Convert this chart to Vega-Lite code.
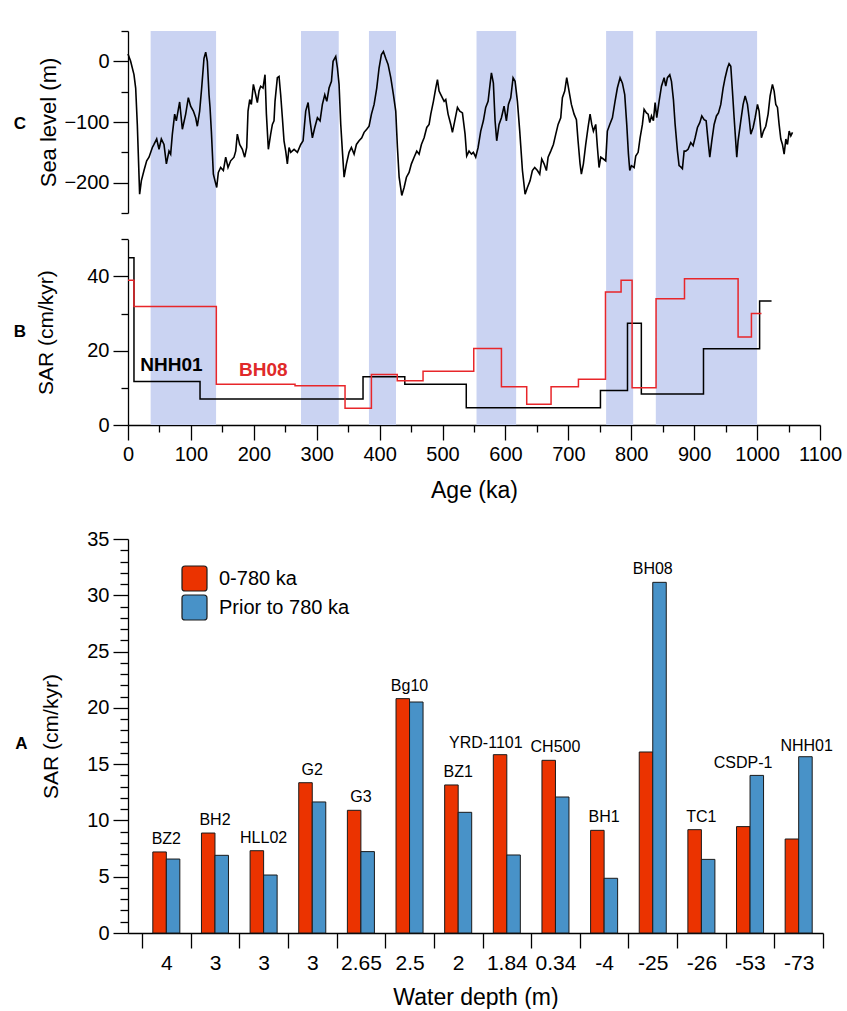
{
  "$schema": "https://vega.github.io/schema/vega-lite/v6.json",
  "background": "white",
  "padding": {"left": 13, "top": 30, "right": 0, "bottom": 0},
  "spacing": 27,
  "resolve": {"scale": {"color": "independent"}, "legend": {"color": "independent"}},
  "config": {
    "font": "Liberation Sans",
    "view": {"stroke": null},
    "axis": {"domainColor": "#000", "tickColor": "#000", "labelColor": "#000", "titleColor": "#000", "labelFontSize": 20, "titleFontSize": 21, "titleFontWeight": "normal", "grid": false, "domainWidth": 1.3, "tickWidth": 1.3, "labelOverlap": false},
    "text": {"font": "Liberation Sans"}
  },
  "datasets": {
    "bands": [
      {"start": 36, "end": 140}, {"start": 275, "end": 335}, {"start": 383, "end": 426},
      {"start": 554, "end": 617}, {"start": 760, "end": 803}, {"start": 839, "end": 1000}
    ],
    "sealevel": [
      {"age":0,"sl":12},{"age":4.2,"sl":0},{"age":9.5,"sl":-22},{"age":12.2,"sl":-44},{"age":14.8,"sl":-104},{"age":18.5,"sl":-219},{"age":21.2,"sl":-197},{"age":25.4,"sl":-180},{"age":29.7,"sl":-164},{"age":33.4,"sl":-158},{"age":38.7,"sl":-142},{"age":41.3,"sl":-137},{"age":45.6,"sl":-128},{"age":49.3,"sl":-145},{"age":53,"sl":-128},{"age":57.2,"sl":-137},{"age":61,"sl":-169},{"age":65.2,"sl":-148},{"age":67.8,"sl":-153},{"age":70.5,"sl":-120},{"age":74.2,"sl":-87},{"age":76.8,"sl":-98},{"age":82.1,"sl":-67},{"age":86.4,"sl":-112},{"age":91.7,"sl":-87},{"age":95.9,"sl":-60},{"age":99.6,"sl":-74},{"age":103.9,"sl":-82},{"age":107.6,"sl":-93},{"age":110.2,"sl":-107},{"age":113.9,"sl":-82},{"age":117.1,"sl":-44},{"age":120.8,"sl":5},{"age":123.5,"sl":15},{"age":126.1,"sl":0},{"age":128.8,"sl":-55},{"age":130.4,"sl":-76},{"age":132.5,"sl":-115},{"age":135.7,"sl":-186},{"age":138.3,"sl":-197},{"age":141,"sl":-208},{"age":143.6,"sl":-183},{"age":147.3,"sl":-175},{"age":151.6,"sl":-180},{"age":155.3,"sl":-158},{"age":159,"sl":-175},{"age":163.2,"sl":-164},{"age":168.5,"sl":-158},{"age":171.2,"sl":-148},{"age":173.8,"sl":-120},{"age":177.5,"sl":-137},{"age":181.8,"sl":-145},{"age":185.5,"sl":-158},{"age":188.7,"sl":-142},{"age":190.8,"sl":-82},{"age":193.5,"sl":-63},{"age":196.1,"sl":-71},{"age":199.3,"sl":-38},{"age":203,"sl":-55},{"age":205.6,"sl":-68},{"age":208.3,"sl":-49},{"age":210.9,"sl":-41},{"age":214.6,"sl":-44},{"age":217.8,"sl":-22},{"age":220,"sl":-87},{"age":223.1,"sl":-145},{"age":226.8,"sl":-120},{"age":229.5,"sl":-104},{"age":232.1,"sl":-98},{"age":233.7,"sl":-66},{"age":237.4,"sl":-27},{"age":240.1,"sl":-25},{"age":242.7,"sl":-55},{"age":245.4,"sl":-93},{"age":248,"sl":-131},{"age":250.7,"sl":-148},{"age":253.3,"sl":-169},{"age":256,"sl":-142},
      {"age":258.7,"sl":-150},{"age":264,"sl":-145},{"age":269.3,"sl":-150},{"age":274.6,"sl":-137},{"age":278.3,"sl":-131},{"age":282.5,"sl":-82},{"age":286.3,"sl":-68},{"age":289.4,"sl":-98},{"age":293.1,"sl":-126},{"age":296.9,"sl":-109},{"age":301.1,"sl":-93},{"age":305.3,"sl":-98},{"age":309,"sl":-71},{"age":312.8,"sl":-55},{"age":316,"sl":-66},{"age":319.6,"sl":-44},{"age":323.4,"sl":-33},{"age":326,"sl":0},{"age":330.2,"sl":8},{"age":332.9,"sl":-11},{"age":335.5,"sl":-38},{"age":338.2,"sl":-104},{"age":340.8,"sl":-148},{"age":343.5,"sl":-191},{"age":347.2,"sl":-169},{"age":351.4,"sl":-150},{"age":355.1,"sl":-142},{"age":359.4,"sl":-153},{"age":363.1,"sl":-137},{"age":367.3,"sl":-131},{"age":371.6,"sl":-126},{"age":375.3,"sl":-117},{"age":379.5,"sl":-112},{"age":383.2,"sl":-107},{"age":387,"sl":-87},{"age":391.2,"sl":-71},{"age":395.4,"sl":-44},{"age":399.1,"sl":-11},{"age":402.8,"sl":11},{"age":406,"sl":16},{"age":409.7,"sl":5},{"age":413.4,"sl":-5},{"age":417.7,"sl":-27},{"age":421.9,"sl":-55},{"age":425.6,"sl":-82},{"age":428.3,"sl":-142},{"age":431,"sl":-191},{"age":435.2,"sl":-221},{"age":438.9,"sl":-208},{"age":442.6,"sl":-191},{"age":446.8,"sl":-183},{"age":450.5,"sl":-169},{"age":454.8,"sl":-158},{"age":459,"sl":-148},{"age":462.7,"sl":-153},{"age":466.4,"sl":-137},{"age":470.7,"sl":-126},{"age":474.9,"sl":-109},{"age":478.6,"sl":-104},{"age":481.3,"sl":-87},{"age":485.5,"sl":-66},{"age":489.2,"sl":-44},{"age":491.9,"sl":-30},{"age":494.5,"sl":-49},{"age":498.2,"sl":-57},{"age":502.5,"sl":-66},{"age":505.1,"sl":-63},{"age":508.8,"sl":-87},{"age":513.1,"sl":-104},{"age":515.7,"sl":-117},{"age":519.4,"sl":-98},{"age":523.7,"sl":-76},{"age":527.4,"sl":-82},
      {"age":531.6,"sl":-85},{"age":535.8,"sl":-120},{"age":538.4,"sl":-156},{"age":542.1,"sl":-148},{"age":545.9,"sl":-153},{"age":549,"sl":-150},{"age":552.7,"sl":-158},{"age":556.5,"sl":-142},{"age":560.7,"sl":-115},{"age":564.9,"sl":-98},{"age":568.6,"sl":-76},{"age":572.4,"sl":-66},{"age":575.5,"sl":-38},{"age":577.7,"sl":-19},{"age":580.8,"sl":-36},{"age":583.5,"sl":-98},{"age":586.1,"sl":-131},{"age":589.8,"sl":-104},{"age":593.6,"sl":-93},{"age":597.8,"sl":-74},{"age":601.5,"sl":-98},{"age":604.7,"sl":-71},{"age":608.4,"sl":-60},{"age":612.1,"sl":-27},{"age":615.3,"sl":-33},{"age":619,"sl":-66},{"age":622.7,"sl":-115},{"age":627,"sl":-180},{"age":631.2,"sl":-219},{"age":634.9,"sl":-208},{"age":639.1,"sl":-197},{"age":642.8,"sl":-180},{"age":646.5,"sl":-175},{"age":650.8,"sl":-180},{"age":654.5,"sl":-186},{"age":657.7,"sl":-161},{"age":661.4,"sl":-169},{"age":665.1,"sl":-180},{"age":667.8,"sl":-158},{"age":672,"sl":-148},{"age":676.2,"sl":-137},{"age":680,"sl":-120},{"age":683.7,"sl":-104},{"age":687.9,"sl":-93},{"age":690.5,"sl":-60},{"age":694.2,"sl":-49},{"age":697.4,"sl":-27},{"age":701.1,"sl":-49},{"age":704.8,"sl":-71},{"age":709.1,"sl":-87},{"age":712.8,"sl":-96},{"age":715.4,"sl":-131},{"age":718.6,"sl":-169},{"age":720.7,"sl":-186},{"age":723.9,"sl":-169},{"age":727.6,"sl":-137},{"age":731.3,"sl":-109},{"age":734.5,"sl":-87},{"age":737.2,"sl":-104},{"age":739.8,"sl":-115},{"age":743.5,"sl":-104},{"age":746.2,"sl":-142},{"age":748.8,"sl":-175},{"age":751.5,"sl":-158},{"age":755.7,"sl":-161},{"age":759.4,"sl":-164},{"age":762,"sl":-115},{"age":765.8,"sl":-104},{"age":770,"sl":-93},{"age":774.2,"sl":-66},{"age":777.9,"sl":-44},{"age":782.2,"sl":-27},{"age":785.9,"sl":-36},{"age":789.6,"sl":-55},{"age":792.8,"sl":-104},{"age":795.5,"sl":-153},{"age":797.6,"sl":-180},{"age":800.2,"sl":-172},{"age":804.5,"sl":-175},{"age":807.1,"sl":-156},{"age":810.9,"sl":-150},{"age":814,"sl":-126},{"age":817.7,"sl":-104},{"age":820.4,"sl":-79},{"age":824.1,"sl":-85},{"age":826.8,"sl":-87},{"age":829.4,"sl":-101},{"age":832.1,"sl":-90},{"age":835.2,"sl":-98},{"age":837.9,"sl":-68},{"age":840.5,"sl":-93},{"age":844.2,"sl":-66},{"age":848,"sl":-41},{"age":852.2,"sl":-27},{"age":854.8,"sl":-41},{"age":857.5,"sl":-27},{"age":861.2,"sl":-22},{"age":863.9,"sl":-33},{"age":867,"sl":-63},{"age":869.7,"sl":-104},{"age":873.4,"sl":-148},{"age":876,"sl":-172},{"age":878.7,"sl":-174},{"age":881.3,"sl":-177},{"age":884,"sl":-148},{"age":886.6,"sl":-148},{"age":890.3,"sl":-145},{"age":894.6,"sl":-134},{"age":898.3,"sl":-139},{"age":901.5,"sl":-126},{"age":905.2,"sl":-109},{"age":908.9,"sl":-101},{"age":912.1,"sl":-90},{"age":915.8,"sl":-96},{"age":919,"sl":-98},{"age":922.1,"sl":-131},{"age":924.8,"sl":-158},{"age":928,"sl":-131},{"age":931.7,"sl":-104},{"age":935.4,"sl":-90},{"age":938.6,"sl":-85},{"age":942.3,"sl":-71},{"age":946,"sl":-44},{"age":949.2,"sl":-27},{"age":952.9,"sl":-11},{"age":955.5,"sl":-4},{"age":958.2,"sl":-8},{"age":960.8,"sl":-49},{"age":963.5,"sl":-93},{"age":967.7,"sl":-158},{"age":969.8,"sl":-131},{"age":974.1,"sl":-98},{"age":977.8,"sl":-71},{"age":981,"sl":-57},{"age":984.7,"sl":-71},{"age":987.3,"sl":-93},{"age":990,"sl":-120},{"age":993.7,"sl":-109},{"age":996.9,"sl":-93},{"age":1000.6,"sl":-71},{"age":1003.2,"sl":-82},{"age":1006.9,"sl":-126},{"age":1010.1,"sl":-115},{"age":1013.8,"sl":-107},{"age":1017.5,"sl":-87},{"age":1020.7,"sl":-57},{"age":1024.4,"sl":-38},{"age":1027.1,"sl":-49},{"age":1029.7,"sl":-71},{"age":1032.4,"sl":-76},{"age":1035,"sl":-104},{"age":1037.7,"sl":-128},{"age":1040.3,"sl":-137},{"age":1043,"sl":-153},{"age":1045.7,"sl":-128},{"age":1048.3,"sl":-137},{"age":1051,"sl":-115},{"age":1053.6,"sl":-123},{"age":1056.3,"sl":-117}
    ],
    "sar_curves": [
      {"core":"NHH01","age":0,"sar":45},{"core":"NHH01","age":9.5,"sar":11.7},{"core":"NHH01","age":114.5,"sar":7.0},{"core":"NHH01","age":373.6,"sar":13.0},{"core":"NHH01","age":440,"sar":11.0},{"core":"NHH01","age":537.7,"sar":4.67},{"core":"NHH01","age":751,"sar":9.3},{"core":"NHH01","age":794,"sar":27.4},{"core":"NHH01","age":816,"sar":8.35},{"core":"NHH01","age":914.8,"sar":20.5},{"core":"NHH01","age":1004,"sar":33.4},{"core":"NHH01","age":1023,"sar":33.4},
      {"core":"BH08","age":0,"sar":39.0},{"core":"BH08","age":9.5,"sar":31.9},{"core":"BH08","age":140.4,"sar":10.95},{"core":"BH08","age":265.5,"sar":10.6},{"core":"BH08","age":345,"sar":4.5},{"core":"BH08","age":386.9,"sar":13.6},{"core":"BH08","age":428,"sar":11.9},{"core":"BH08","age":469,"sar":14.45},{"core":"BH08","age":549.6,"sar":20.6},{"core":"BH08","age":593.6,"sar":10.3},{"core":"BH08","age":633.8,"sar":5.57},{"core":"BH08","age":672.5,"sar":10.3},{"core":"BH08","age":716,"sar":12.3},{"core":"BH08","age":759,"sar":35.8},{"core":"BH08","age":783.8,"sar":39.0},{"core":"BH08","age":801.3,"sar":10.05},{"core":"BH08","age":839.4,"sar":34.0},{"core":"BH08","age":884.6,"sar":39.4},{"core":"BH08","age":969.8,"sar":23.7},{"core":"BH08","age":991,"sar":30.0},{"core":"BH08","age":1007,"sar":30.0}
    ],
    "sar_sites": [
      {"site":"BZ2","depth":"4","period":"0-780 ka","value":7.2},{"site":"BZ2","depth":"4","period":"Prior to 780 ka","value":6.57},
      {"site":"BH2","depth":"3","period":"0-780 ka","value":8.88},{"site":"BH2","depth":"3","period":"Prior to 780 ka","value":6.9},
      {"site":"HLL02","depth":"3","period":"0-780 ka","value":7.31},{"site":"HLL02","depth":"3","period":"Prior to 780 ka","value":5.15},
      {"site":"G2","depth":"3","period":"0-780 ka","value":13.35},{"site":"G2","depth":"3","period":"Prior to 780 ka","value":11.64},
      {"site":"G3","depth":"2.65","period":"0-780 ka","value":10.9},{"site":"G3","depth":"2.65","period":"Prior to 780 ka","value":7.23},
      {"site":"Bg10","depth":"2.5","period":"0-780 ka","value":20.82},{"site":"Bg10","depth":"2.5","period":"Prior to 780 ka","value":20.52},
      {"site":"BZ1","depth":"2","period":"0-780 ka","value":13.15},{"site":"BZ1","depth":"2","period":"Prior to 780 ka","value":10.72},
      {"site":"YRD-1101","depth":"1.84","period":"0-780 ka","value":15.84},{"site":"YRD-1101","depth":"1.84","period":"Prior to 780 ka","value":6.93},
      {"site":"CH500","depth":"0.34","period":"0-780 ka","value":15.34},{"site":"CH500","depth":"0.34","period":"Prior to 780 ka","value":12.08},
      {"site":"BH1","depth":"-4","period":"0-780 ka","value":9.12},{"site":"BH1","depth":"-4","period":"Prior to 780 ka","value":4.86},
      {"site":"BH08","depth":"-25","period":"0-780 ka","value":16.08},{"site":"BH08","depth":"-25","period":"Prior to 780 ka","value":31.15},
      {"site":"TC1","depth":"-26","period":"0-780 ka","value":9.18},{"site":"TC1","depth":"-26","period":"Prior to 780 ka","value":6.54},
      {"site":"CSDP-1","depth":"-53","period":"0-780 ka","value":9.45},{"site":"CSDP-1","depth":"-53","period":"Prior to 780 ka","value":14.0},
      {"site":"NHH01","depth":"-73","period":"0-780 ka","value":8.35},{"site":"NHH01","depth":"-73","period":"Prior to 780 ka","value":15.66}
    ]
  },
  "vconcat": [
    {
      "width": 692,
      "height": 394,
      "resolve": {"scale": {"y": "independent"}, "axis": {"y": "independent", "x": "independent"}},
      "layer": [
        {
          "data": {"name": "bands"},
          "mark": {"type": "rect", "color": "#cad3f2"},
          "encoding": {
            "x": {"field": "start", "type": "quantitative", "scale": {"domain": [0, 1100], "nice": false, "zero": false},
              "axis": {"orient": "bottom", "values": [50, 150, 250, 350, 450, 550, 650, 750, 850, 950, 1050], "tickSize": 7, "labels": false, "domain": false, "title": null}},
            "x2": {"field": "end"}
          }
        },
        {
          "resolve": {"axis": {"y": "independent", "x": "independent"}},
          "layer": [
            {
              "data": {"name": "sealevel"},
              "mark": {"type": "line", "color": "#000", "strokeWidth": 1.6, "strokeJoin": "miter"},
              "encoding": {
                "x": {"field": "age", "type": "quantitative", "scale": {"domain": [0, 1100], "nice": false, "zero": false}, "axis": null},
                "y": {"field": "sl", "type": "quantitative", "scale": {"domain": [-250, 50], "range": [182, 0], "nice": false, "zero": false},
                  "axis": {"orient": "left", "title": "Sea level (m)", "values": [-200, -100, 0], "tickSize": 15, "labelPadding": 4, "titlePadding": 3, "titleFontSize": 22}}
              }
            },
            {
              "data": {"values": [{}]},
              "mark": {"type": "text", "text": "C", "fontWeight": "bold", "fontSize": 17, "color": "#000"},
              "encoding": {
                "x": {"datum": -172, "type": "quantitative", "axis": null},
                "y": {"datum": -103, "type": "quantitative",
                  "axis": {"orient": "left", "values": [-250, -150, -50, 50], "tickSize": 7, "labels": false, "domain": false, "title": null}}
              }
            }
          ]
        },
        {
          "resolve": {"axis": {"y": "independent", "x": "independent"}},
          "layer": [
            {
              "data": {"name": "sar_curves"},
              "mark": {"type": "line", "interpolate": "step-after", "strokeWidth": 1.5},
              "encoding": {
                "x": {"field": "age", "type": "quantitative", "scale": {"domain": [0, 1100], "nice": false, "zero": false},
                  "axis": {"orient": "bottom", "title": "Age (ka)", "format": "d", "values": [0, 100, 200, 300, 400, 500, 600, 700, 800, 900, 1000, 1100], "tickSize": 15, "labelPadding": 4, "titlePadding": 15, "titleFontSize": 23, "labelFlush": false}},
                "y": {"field": "sar", "type": "quantitative", "scale": {"domain": [0, 50], "range": [394, 208.3], "nice": false},
                  "axis": {"orient": "left", "title": "SAR (cm/kyr)", "values": [0, 20, 40], "tickSize": 15, "labelPadding": 4, "titlePadding": 30}},
                "color": {"field": "core", "type": "nominal", "scale": {"domain": ["NHH01", "BH08"], "range": ["#000000", "#e8262a"]}, "legend": null}
              }
            },
            {
              "data": {"values": [{}]},
              "mark": {"type": "text", "text": "NHH01", "fontWeight": "bold", "fontSize": 19, "color": "#000"},
              "encoding": {
                "x": {"datum": 69, "type": "quantitative", "axis": null},
                "y": {"datum": 16.2, "type": "quantitative", "axis": null}
              }
            },
            {
              "data": {"values": [{}]},
              "mark": {"type": "text", "text": "BH08", "fontWeight": "bold", "fontSize": 19, "color": "#e02a2a"},
              "encoding": {
                "x": {"datum": 215, "type": "quantitative", "axis": null},
                "y": {"datum": 14.8, "type": "quantitative", "axis": null}
              }
            },
            {
              "data": {"values": [{}]},
              "mark": {"type": "text", "text": "B", "fontWeight": "bold", "fontSize": 17, "color": "#000"},
              "encoding": {
                "x": {"datum": -172, "type": "quantitative", "axis": null},
                "y": {"datum": 25.1, "type": "quantitative",
                  "axis": {"orient": "left", "values": [10, 30, 50], "tickSize": 7, "labels": false, "domain": false, "title": null}}
              }
            }
          ]
        }
      ]
    },
    {
      "width": 695,
      "height": 394,
      "title": {"text": "A", "orient": "left", "angle": 0, "anchor": "middle", "fontSize": 17, "fontWeight": "bold", "color": "#000", "font": "Liberation Sans", "offset": 7},
      "data": {"name": "sar_sites"},
      "resolve": {"axis": {"y": "independent", "x": "independent"}},
      "layer": [
        {
          "mark": {"type": "bar", "stroke": "#1a1a1a", "strokeWidth": 1},
          "encoding": {
            "x": {"field": "site", "type": "nominal",
              "scale": {"domain": ["BZ2", "BH2", "HLL02", "G2", "G3", "Bg10", "BZ1", "YRD-1101", "CH500", "BH1", "BH08", "TC1", "CSDP-1", "NHH01"], "paddingInner": 0, "paddingOuter": 0.144, "align": 1},
              "axis": {"orient": "bottom", "title": "Water depth (m)", "tickBand": "extent", "tickSize": 15, "labelAngle": 0, "labelPadding": 4, "labelFontSize": 21, "titlePadding": 13, "titleFontSize": 23,
                "labelExpr": "['4','3','3','3','2.65','2.5','2','1.84','0.34','-4','-25','-26','-53','-73'][indexof(['BZ2','BH2','HLL02','G2','G3','Bg10','BZ1','YRD-1101','CH500','BH1','BH08','TC1','CSDP-1','NHH01'], datum.value)]"}},
            "xOffset": {"field": "period", "type": "nominal", "scale": {"domain": ["0-780 ka", "Prior to 780 ka"], "paddingInner": 0, "paddingOuter": 0.8}},
            "y": {"field": "value", "type": "quantitative", "scale": {"domain": [0, 35], "nice": false},
              "axis": {"orient": "left", "title": "SAR (cm/kyr)", "values": [0, 5, 10, 15, 20, 25, 30, 35], "tickSize": 15, "labelPadding": 4, "titlePadding": 25}},
            "color": {"field": "period", "type": "nominal", "scale": {"domain": ["0-780 ka", "Prior to 780 ka"], "range": ["#eb3300", "#4892c8"]},
              "legend": {"orient": "none", "legendX": 53, "legendY": 26, "title": null, "symbolType": "M-0.75,-1H0.75A0.25,0.25 0 0 1 1,-0.75V0.75A0.25,0.25 0 0 1 0.75,1H-0.75A0.25,0.25 0 0 1 -1,0.75V-0.75A0.25,0.25 0 0 1 -0.75,-1Z", "symbolSize": 625, "symbolStrokeColor": "#1a1a1a", "symbolStrokeWidth": 1.2, "symbolOpacity": 1, "labelFontSize": 20, "labelOffset": 11, "rowPadding": -2, "padding": 0, "labelColor": "#000"}}
          }
        },
        {
          "transform": [
            {"aggregate": [{"op": "max", "field": "value", "as": "top"}], "groupby": ["site"]},
            {"filter": "indexof(['YRD-1101','CSDP-1','NHH01'], datum.site) < 0"}
          ],
          "mark": {"type": "text", "fontSize": 16, "dy": -13, "baseline": "middle", "color": "#000"},
          "encoding": {
            "x": {"field": "site", "type": "nominal", "axis": null},
            "y": {"field": "top", "type": "quantitative",
              "axis": {"orient": "left", "values": [1,2,3,4,6,7,8,9,11,12,13,14,16,17,18,19,21,22,23,24,26,27,28,29,31,32,33,34], "tickSize": 8, "labels": false, "domain": false, "title": null}},
            "text": {"field": "site"}
          }
        },
        {
          "transform": [
            {"aggregate": [{"op": "max", "field": "value", "as": "top"}], "groupby": ["site"]},
            {"filter": "datum.site === 'YRD-1101'"}
          ],
          "mark": {"type": "text", "fontSize": 16, "dy": -12, "dx": -21, "baseline": "middle", "color": "#000"},
          "encoding": {
            "x": {"field": "site", "type": "nominal", "axis": null},
            "y": {"field": "top", "type": "quantitative", "axis": null},
            "text": {"field": "site"}
          }
        },
        {
          "transform": [
            {"aggregate": [{"op": "max", "field": "value", "as": "top"}], "groupby": ["site"]},
            {"filter": "datum.site === 'CSDP-1'"}
          ],
          "mark": {"type": "text", "fontSize": 16, "dy": -12, "dx": -7, "baseline": "middle", "color": "#000"},
          "encoding": {
            "x": {"field": "site", "type": "nominal", "axis": null},
            "y": {"field": "top", "type": "quantitative", "axis": null},
            "text": {"field": "site"}
          }
        },
        {
          "transform": [
            {"aggregate": [{"op": "max", "field": "value", "as": "top"}], "groupby": ["site"]},
            {"filter": "datum.site === 'NHH01'"}
          ],
          "mark": {"type": "text", "fontSize": 16, "dy": -11, "dx": 8, "baseline": "middle", "color": "#000"},
          "encoding": {
            "x": {"field": "site", "type": "nominal", "axis": null},
            "y": {"field": "top", "type": "quantitative", "axis": null},
            "text": {"field": "site"}
          }
        }
      ]
    }
  ]
}
